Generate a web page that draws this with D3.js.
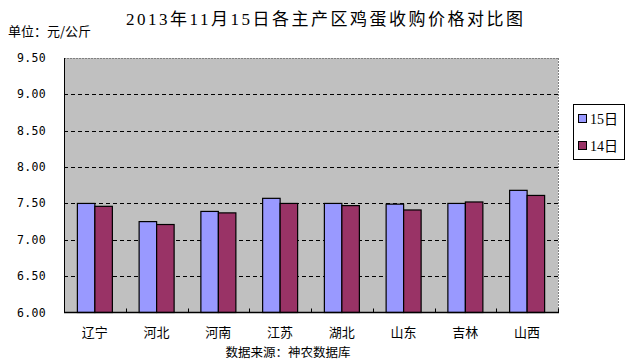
<!DOCTYPE html>
<html><head><meta charset="utf-8">
<script src="https://cdn.jsdelivr.net/npm/d3@7"></script>
<style>body{margin:0;background:#fff}svg{display:block}</style>
</head><body>
<svg id="c" width="633" height="362"></svg>
<script>
const categories = ["辽宁","河北","河南","江苏","湖北","山东","吉林","山西"];
const series15 = [7.50,7.25,7.39,7.57,7.50,7.49,7.50,7.68];
const series14 = [7.46,7.21,7.37,7.50,7.47,7.41,7.52,7.61];
const seriesNames = ["15日","14日"];
const yTicks = [6.00,6.50,7.00,7.50,8.00,8.50,9.00,9.50];
const titleText = "2013年11月15日各主产区鸡蛋收购价格对比图";
const unitText = "单位：元/公斤";
const sourceText = "数据来源：神农数据库";

const colors = ["#9999FF","#993366"];
const svg = d3.select("#c");
const L=64, R=558, T=58, B=312.5;
const font = "'Liberation Serif','Noto Sans CJK SC',serif";
const cjk = "'Noto Sans CJK SC',sans-serif";

const x = d3.scaleBand().domain(categories).range([L,R]).paddingInner(0).paddingOuter(0);
const y = d3.scaleLinear().domain([6,9.5]).range([B,T]);

svg.append("rect").attr("x",L).attr("y",T).attr("width",R-L).attr("height",B-T).attr("fill","#C0C0C0");
svg.append("line").attr("x1",L).attr("x2",R).attr("y1",T+0.5).attr("y2",T+0.5).attr("stroke","#808080").attr("stroke-dasharray","2,1");
svg.append("line").attr("x1",R+0.5).attr("x2",R+0.5).attr("y1",T).attr("y2",B).attr("stroke","#808080").attr("stroke-dasharray","2,1");
svg.selectAll("line.g").data(yTicks.filter(v=>v>6&&v<9.5)).enter().append("line")
  .attr("x1",L).attr("x2",R).attr("y1",d=>Math.round(y(d))+0.5).attr("y2",d=>Math.round(y(d))+0.5)
  .attr("stroke","#000").attr("stroke-dasharray","4,3");

const data = categories.map((c,i)=>({c, v:[series15[i],series14[i]]}));
const bw = x.bandwidth()*35/61.75/2;
const g = svg.append("g");
data.forEach(d=>{
  d.v.forEach((v,j)=>{
    const x0 = x(d.c) + (x.bandwidth()-2*bw)/2 + j*bw;
    g.append("rect").attr("x",x0).attr("y",y(v)).attr("width",bw).attr("height",B-y(v))
      .attr("fill",colors[j]).attr("stroke","#000").attr("stroke-width",1.2);
  });
});

svg.append("line").attr("x1",L+0.5).attr("x2",L+0.5).attr("y1",T).attr("y2",B).attr("stroke","#000");
svg.append("line").attr("x1",L).attr("x2",R+1).attr("y1",B).attr("y2",B).attr("stroke","#000").attr("stroke-width",1.5);
categories.forEach((c,i)=>{ if(i>0){ const xx=Math.round(x(c))+0.5;
  svg.append("line").attr("x1",xx).attr("x2",xx).attr("y1",B).attr("y2",B-4).attr("stroke","#000");}});
svg.append("line").attr("x1",R+0.5).attr("x2",R+0.5).attr("y1",B).attr("y2",B-4).attr("stroke","#000");

svg.selectAll("text.yt").data(yTicks).enter().append("text")
  .attr("x",46).attr("y",d=>y(d)+4).attr("text-anchor","end")
  .attr("font-family","'DejaVu Sans Mono',monospace").attr("font-size",11.5).attr("letter-spacing",0.3).attr("fill","#000")
  .text(d=>d.toFixed(2));

svg.selectAll("text.xt").data(categories).enter().append("text")
  .attr("x",d=>x(d)+x.bandwidth()/2).attr("y",337).attr("text-anchor","middle")
  .attr("font-family",cjk).attr("font-size",13).attr("fill","#000").text(d=>d);

svg.append("text").attr("x",288).attr("y",357).attr("text-anchor","middle")
  .attr("font-family",cjk).attr("font-size",12.5).attr("fill","#000").text(sourceText);
svg.append("text").attr("x",8).attr("y",36)
  .attr("font-family",cjk).attr("font-size",13).attr("fill","#000").text(unitText);
svg.append("text").attr("x",126).attr("y",25).attr("textLength",397).attr("lengthAdjust","spacing")
  .attr("font-family",font).attr("font-size",17).attr("fill","#000").text(titleText);

const lg = svg.append("g");
lg.append("rect").attr("x",573.5).attr("y",104.5).attr("width",51).attr("height",55).attr("fill","#fff").attr("stroke","#000");
seriesNames.forEach((n,i)=>{
  const cy = 119 + i*27;
  lg.append("rect").attr("x",578.5).attr("y",cy-4.5).attr("width",8).attr("height",8).attr("fill",colors[i]).attr("stroke","#000");
  lg.append("text").attr("x",590).attr("y",cy+5).attr("font-family",font).attr("font-size",14).attr("fill","#000").text(n);
});
</script>
</body></html>
